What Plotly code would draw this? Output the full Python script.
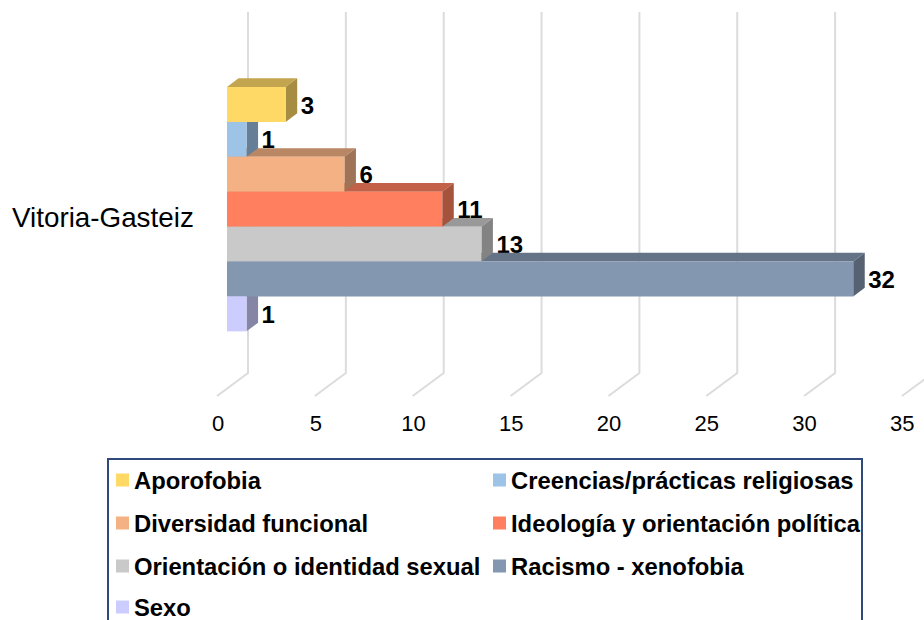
import plotly.graph_objects as go

categories = ["Aporofobia", "Creencias/prácticas religiosas", "Diversidad funcional",
              "Ideología y orientación política", "Orientación o identidad sexual",
              "Racismo - xenofobia", "Sexo"]
values = [3, 1, 6, 11, 13, 32, 1]
colors = ["#FFD966", "#9DC3E6", "#F4B183", "#FF7F5F", "#C9C9C9", "#8497B0", "#CCCCFF"]
group_label = "Vitoria-Gasteiz"
tick_values = [0, 5, 10, 15, 20, 25, 30, 35]

W, H = 924, 620
PX_X = 19.57   # pixels per value unit
PX_Y = 34.9    # pixels per bar slot
ORIGIN_X = 227
ORIGIN_Y = 104.5
DX = 11.5 / PX_X      # bar depth in value units
DY = 8.7 / PX_Y       # bar depth in slot units
FONT = "Liberation Sans, Arial, sans-serif"


def shade(hex_color, f):
    r, g, b = (int(hex_color[i:i + 2], 16) for i in (1, 3, 5))
    return f"rgb({round(r * f)},{round(g * f)},{round(b * f)})"


x_range = [-ORIGIN_X / PX_X, (W - ORIGIN_X) / PX_X]
y_range = [(H - ORIGIN_Y) / PX_Y, -ORIGIN_Y / PX_Y]
fig = go.Figure()

# Gridlines: back wall and floor diagonal
gx, gy = [], []
for t in tick_values:
    gx += [t + 21 / PX_X, t + 21 / PX_X, t - 10 / PX_X, None]
    gy += [(12 - ORIGIN_Y) / PX_Y, (373 - ORIGIN_Y) / PX_Y, (396 - ORIGIN_Y) / PX_Y, None]
fig.add_trace(go.Scatter(x=gx, y=gy, mode="lines", line=dict(color="#DCDCDC", width=2),
                         hoverinfo="skip", showlegend=False))

# Value labels sit behind the bar faces
fig.add_trace(go.Scatter(x=[v + 15 / PX_X for v in values],
                         y=[i + 3 / PX_Y for i in range(len(values))],
                         mode="text", text=[str(v) for v in values],
                         textposition="middle right",
                         textfont=dict(family=FONT, size=24, color="#000000"),
                         texttemplate="<b>%{text}</b>", hoverinfo="skip", showlegend=False))

# Depth faces, lowest bar first
for i in reversed(range(len(values))):
    v, c = values[i], colors[i]
    top, bot = i - 0.5, i + 0.5
    fig.add_trace(go.Scatter(x=[0, v, v + DX, DX, 0], y=[top, top, top - DY, top - DY, top],
                             mode="lines", fill="toself", fillcolor=shade(c, 0.76),
                             line=dict(width=0), hoverinfo="skip", showlegend=False))
    fig.add_trace(go.Scatter(x=[v, v, v + DX, v + DX, v], y=[top, bot, bot - DY, top - DY, top],
                             mode="lines", fill="toself", fillcolor=shade(c, 0.65),
                             line=dict(width=0), hoverinfo="skip", showlegend=False))

# Front faces
for i, (name, v, c) in enumerate(zip(categories, values, colors)):
    fig.add_trace(go.Bar(x=[v], y=[i], width=[1], orientation="h", name=name,
                         marker=dict(color=c, line=dict(width=0)),
                         xaxis="x2", yaxis="y2", showlegend=False))

# Tick-label carrier axis
fig.add_trace(go.Scatter(x=tick_values, y=[0] * len(tick_values), mode="markers",
                         marker=dict(opacity=0), xaxis="x3", yaxis="y",
                         hoverinfo="skip", showlegend=False))


def px(x):
    return x / W


def py(y):
    return 1 - y / H


annotations = [dict(text=group_label, x=px(196), y=py(218), xref="paper", yref="paper",
                    xanchor="right", yanchor="middle", showarrow=False,
                    font=dict(family=FONT, size=27.8, color="#000000"))]
shapes = [dict(type="rect", xref="paper", yref="paper", x0=px(108), x1=px(862), y0=py(640), y1=py(459),
               line=dict(color="#2F4A7A", width=2), fillcolor="rgba(0,0,0,0)")]
columns = [116, 493]
rows = [480, 523, 566, 607]
for i, (name, c) in enumerate(zip(categories, colors)):
    lx, ly = columns[i % 2], rows[i // 2]
    shapes.append(dict(type="rect", xref="paper", yref="paper", x0=px(lx), x1=px(lx + 13),
                       y0=py(ly + 6.5), y1=py(ly - 6.5), fillcolor=c, line=dict(width=0)))
    annotations.append(dict(text=f"<b>{name}</b>", x=px(lx + 16), y=py(ly), xref="paper", yref="paper",
                            xanchor="left", yanchor="middle", showarrow=False,
                            font=dict(family=FONT, size=23.8, color="#000000")))

hidden = dict(visible=False, fixedrange=True)
fig.update_layout(
    width=W, height=H, margin=dict(l=0, r=0, t=0, b=0), autosize=False,
    paper_bgcolor="#FFFFFF", plot_bgcolor="#FFFFFF", showlegend=False, hovermode=False,
    xaxis=dict(range=x_range, domain=[0, 1], **hidden),
    yaxis=dict(range=y_range, domain=[0, 1], **hidden),
    xaxis2=dict(range=x_range, overlaying="x", anchor="y2", **hidden),
    yaxis2=dict(range=y_range, overlaying="y", anchor="x2", **hidden),
    xaxis3=dict(range=[-218 / 19.55, (W - 218) / 19.55], overlaying="x", anchor="free",
                position=py(408), side="bottom", tickmode="array", tickvals=tick_values,
                showgrid=False, zeroline=False, showline=False, ticks="", fixedrange=True,
                tickfont=dict(family=FONT, size=22, color="#000000")),
    annotations=annotations, shapes=shapes,
)
fig.write_html("out.html", config=dict(displayModeBar=False),
               post_script="document.body.style.margin='0';document.body.style.overflow='hidden';")
